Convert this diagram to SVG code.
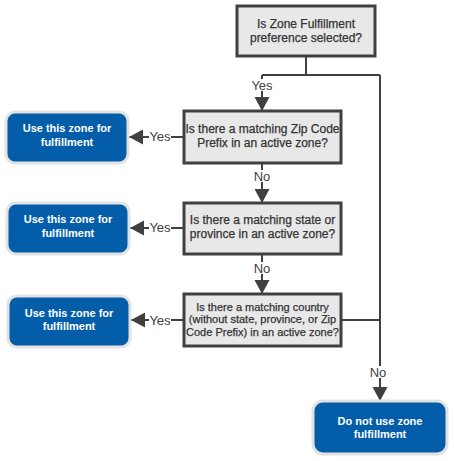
<svg xmlns="http://www.w3.org/2000/svg" width="454" height="461" viewBox="0 0 454 461">
<style>
  .dec rect { fill: #e8e8e8; stroke: #404040; stroke-width: 3; }
  .dec text { font-family: "Liberation Sans", Arial, sans-serif; font-size: 12px; fill: #333333; stroke: #333333; stroke-width: 0.25; text-anchor: middle; }
  .dec.small text { font-size: 11px; }
  .term rect { fill: #045da9; stroke: #e2e2e2; stroke-width: 3; }
  .term text { font-family: "Liberation Sans", Arial, sans-serif; font-size: 11px; font-weight: bold; fill: #ffffff; text-anchor: middle; }
  .conn path { fill: none; stroke: #404040; stroke-width: 2; }
  .lbl rect { fill: #ffffff; }
  .lbl text { font-family: "Liberation Sans", Arial, sans-serif; font-size: 13px; fill: #404040; text-anchor: middle; }
</style>
<defs>
  <marker id="arr" markerUnits="userSpaceOnUse" markerWidth="15" markerHeight="16" refX="14" refY="8" orient="auto">
    <path d="M0,0.5 L14,8 L0,15.5 z" fill="#404040"/>
  </marker>
</defs>
<rect x="0" y="0" width="454" height="461" fill="#ffffff"/>

<g id="connectors" class="conn">
  <path d="M306,56 V75"/>
  <path d="M262,75 H380"/>
  <path d="M262,75 V111" marker-end="url(#arr)"/>
  <path d="M262,163 V203" marker-end="url(#arr)"/>
  <path d="M262,254 V294" marker-end="url(#arr)"/>
  <path d="M184,137 H129" marker-end="url(#arr)"/>
  <path d="M184,228 H130" marker-end="url(#arr)"/>
  <path d="M184,320 H131" marker-end="url(#arr)"/>
  <path d="M342,320 H380"/>
  <path d="M380,75 V401" marker-end="url(#arr)"/>
</g>

<g id="labels" class="lbl">
  <rect x="251" y="79" width="22" height="12"/>
  <text x="262" y="90">Yes</text>
  <rect x="253" y="170" width="18" height="12"/>
  <text x="262" y="181">No</text>
  <rect x="253" y="262" width="18" height="12"/>
  <text x="262" y="273">No</text>
  <rect x="369" y="366" width="18" height="12"/>
  <text x="378" y="377">No</text>
  <rect x="149" y="131" width="22" height="12"/>
  <text x="160" y="141">Yes</text>
  <rect x="149" y="222" width="22" height="12"/>
  <text x="160" y="232">Yes</text>
  <rect x="149" y="314" width="22" height="12"/>
  <text x="160" y="324.5">Yes</text>
</g>

<g id="q-zone-pref" class="dec">
  <rect x="237" y="6" width="138" height="50"/>
  <text x="306" y="27.5">Is Zone Fulfillment</text>
  <text x="306" y="41.5">preference selected?</text>
</g>

<g id="q-zip" class="dec">
  <rect x="184" y="111" width="157" height="52"/>
  <text x="262.5" y="133">Is there a matching Zip Code</text>
  <text x="262.5" y="147">Prefix in an active zone?</text>
</g>

<g id="q-state" class="dec">
  <rect x="184" y="203" width="157" height="51"/>
  <text x="262.5" y="223.5">Is there a matching state or</text>
  <text x="262.5" y="237.5">province in an active zone?</text>
</g>

<g id="q-country" class="dec small">
  <rect x="184" y="294" width="157" height="52"/>
  <text x="262.5" y="310.5">Is there a matching country</text>
  <text x="262.5" y="323">(without state, province, or Zip</text>
  <text x="262.5" y="335.5">Code Prefix) in an active zone?</text>
</g>

<g id="use-zone-1" class="term">
  <rect x="6" y="112" width="122" height="51" rx="9"/>
  <text x="67" y="132">Use this zone for</text>
  <text x="67" y="146">fulfillment</text>
</g>

<g id="use-zone-2" class="term">
  <rect x="7" y="203" width="122" height="51" rx="9"/>
  <text x="68" y="223">Use this zone for</text>
  <text x="68" y="237">fulfillment</text>
</g>

<g id="use-zone-3" class="term">
  <rect x="8" y="296" width="122" height="51" rx="9"/>
  <text x="69" y="316.5">Use this zone for</text>
  <text x="69" y="330">fulfillment</text>
</g>

<g id="no-zone" class="term">
  <rect x="313" y="401" width="134" height="53" rx="10"/>
  <text x="380" y="425">Do not use zone</text>
  <text x="380" y="438">fulfillment</text>
</g>
</svg>
